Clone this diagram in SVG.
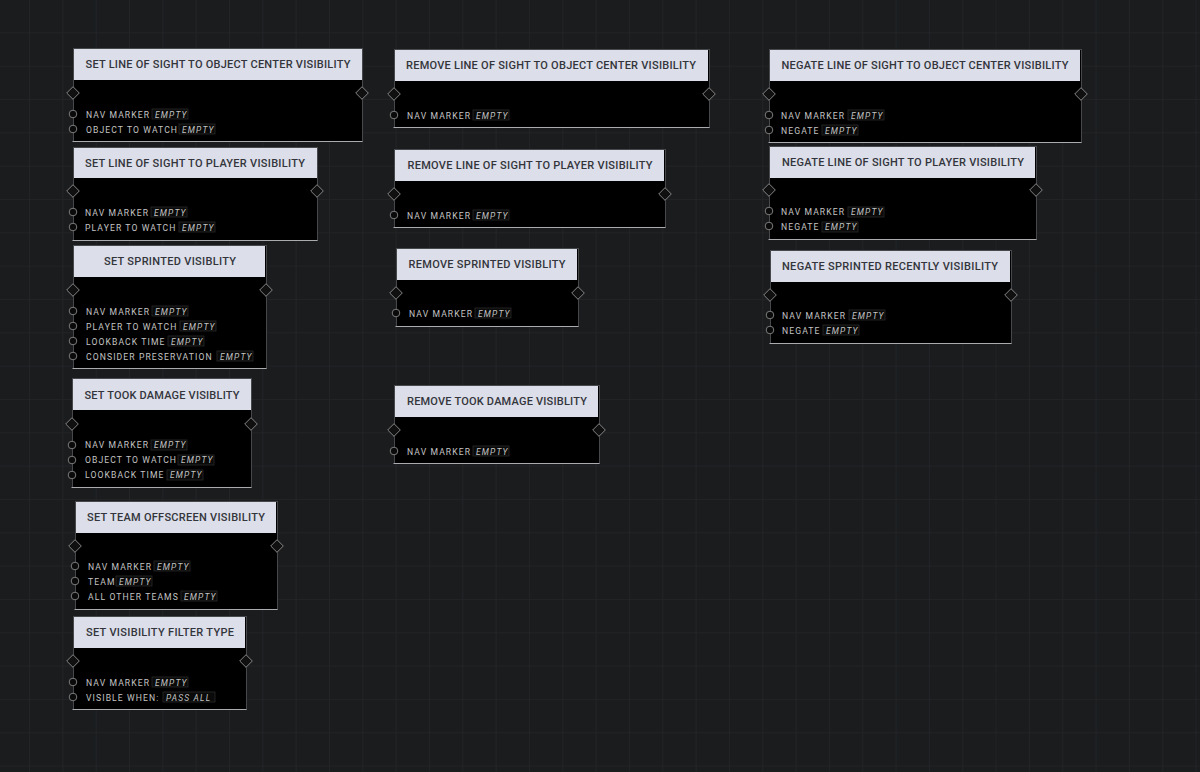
<svg xmlns="http://www.w3.org/2000/svg" width="1200" height="772" viewBox="0 0 1200 772">
<defs>
<pattern id="grid" width="33.33" height="33.33" patternUnits="userSpaceOnUse" x="-3.33" y="0"><path d="M33.33 0V33.33M0 33.33H33.33" fill="none" stroke="#232528" stroke-width="1.6"/></pattern>
<g id="pin"><circle r="3.8" fill="#0a0a0a" stroke="#7c7c7c" stroke-width="1"/></g>
<g id="dia"><path d="M0-6.3 6.3 0 0 6.3-6.3 0Z" fill="#101010" stroke="#868686" stroke-width="1"/></g>
</defs>
<style>
.body{fill:#000;stroke:#46484b;stroke-width:1;transform:translate(.5px,.5px)}
.bot{stroke:#a9abae;stroke-width:1;transform:translateY(.5px)}
.head{fill:#dcdeea}
.t{font:500 11px Roboto,"Liberation Sans",sans-serif;fill:#33353b;text-anchor:middle}
.l{font:8.6px Roboto,"Liberation Sans",sans-serif;letter-spacing:1.1px;fill:#c4c4c4}
.v{font:italic 8.4px Roboto,"Liberation Sans",sans-serif;letter-spacing:1.2px;fill:#c4c4c4;transform:translateX(1px)}
.b{fill:#0a0a0a;stroke:#2a2a2a;stroke-width:.8}
</style>
<rect width="1200" height="772" fill="#1a1c1e"/>
<rect width="1200" height="772" fill="url(#grid)"/>
<g id="connectors"/>
<g id="n1"><rect class="body" x="73" y="48" width="289" height="93"/><path class="bot" d="M72.5 141H362.5"/><rect class="head" x="74" y="49" width="288" height="31"/><text class="t" x="218" y="67.5" textLength="265" lengthAdjust="spacing">SET LINE OF SIGHT TO OBJECT CENTER VISIBILITY</text><use href="#dia" x="73" y="93"/><use href="#dia" x="362" y="93"/><use href="#pin" x="73" y="114"/><text class="l" x="86" y="118">NAV MARKER</text><rect class="b" x="152" y="109" width="36" height="10"/><text class="v" x="154" y="118">EMPTY</text><use href="#pin" x="73" y="129"/><text class="l" x="86" y="133">OBJECT TO WATCH</text><rect class="b" x="179" y="124" width="36" height="10"/><text class="v" x="181" y="133">EMPTY</text></g>
<g id="n2"><rect class="body" x="73" y="147" width="244" height="93"/><path class="bot" d="M72.5 240H317.5"/><rect class="head" x="74" y="148" width="243" height="30"/><text class="t" x="195" y="166.5" textLength="220">SET LINE OF SIGHT TO PLAYER VISIBILITY</text><use href="#dia" x="73" y="191"/><use href="#dia" x="317" y="191"/><use href="#pin" x="73" y="212"/><text class="l" x="85" y="216">NAV MARKER</text><rect class="b" x="151" y="207" width="36" height="10"/><text class="v" x="153" y="216">EMPTY</text><use href="#pin" x="73" y="227"/><text class="l" x="85" y="231">PLAYER TO WATCH</text><rect class="b" x="179" y="222" width="36" height="10"/><text class="v" x="181" y="231">EMPTY</text></g>
<g id="n3"><rect class="body" x="73" y="245" width="193" height="123"/><path class="bot" d="M72.5 368H266.5"/><rect class="head" x="74" y="246" width="191" height="31"/><text class="t" x="170" y="264.5" textLength="132">SET SPRINTED VISIBLITY</text><use href="#dia" x="73" y="290"/><use href="#dia" x="266" y="290"/><use href="#pin" x="73" y="311"/><text class="l" x="86" y="315">NAV MARKER</text><rect class="b" x="152" y="306" width="36" height="10"/><text class="v" x="154" y="315">EMPTY</text><use href="#pin" x="73" y="326"/><text class="l" x="86" y="330">PLAYER TO WATCH</text><rect class="b" x="180" y="321" width="36" height="10"/><text class="v" x="182" y="330">EMPTY</text><use href="#pin" x="73" y="341"/><text class="l" x="86" y="345">LOOKBACK TIME</text><rect class="b" x="168" y="336" width="36" height="10"/><text class="v" x="170" y="345">EMPTY</text><use href="#pin" x="73" y="356"/><text class="l" x="86" y="360">CONSIDER PRESERVATION</text><rect class="b" x="217" y="351" width="36" height="10"/><text class="v" x="219" y="360">EMPTY</text></g>
<g id="n4"><rect class="body" x="72" y="378" width="179" height="109"/><path class="bot" d="M71.5 487H251.5"/><rect class="head" x="73" y="379" width="178" height="31"/><text class="t" x="162" y="398.5" textLength="155">SET TOOK DAMAGE VISIBLITY</text><use href="#dia" x="72" y="424"/><use href="#dia" x="251" y="424"/><use href="#pin" x="72" y="445"/><text class="l" x="85" y="448">NAV MARKER</text><rect class="b" x="151" y="440" width="36" height="10"/><text class="v" x="153" y="448">EMPTY</text><use href="#pin" x="72" y="460"/><text class="l" x="85" y="463">OBJECT TO WATCH</text><rect class="b" x="178" y="455" width="36" height="10"/><text class="v" x="180" y="463">EMPTY</text><use href="#pin" x="72" y="475"/><text class="l" x="85" y="478">LOOKBACK TIME</text><rect class="b" x="167" y="470" width="36" height="10"/><text class="v" x="169" y="478">EMPTY</text></g>
<g id="n5"><rect class="body" x="75" y="501" width="202" height="108"/><path class="bot" d="M74.5 609H277.5"/><rect class="head" x="76" y="502" width="200" height="31"/><text class="t" x="176" y="520.5" textLength="178">SET TEAM OFFSCREEN VISIBILITY</text><use href="#dia" x="75" y="546"/><use href="#dia" x="277" y="546"/><use href="#pin" x="75" y="566"/><text class="l" x="88" y="570">NAV MARKER</text><rect class="b" x="154" y="561" width="36" height="10"/><text class="v" x="156" y="570">EMPTY</text><use href="#pin" x="75" y="581"/><text class="l" x="88" y="585">TEAM</text><rect class="b" x="116" y="576" width="36" height="10"/><text class="v" x="118" y="585">EMPTY</text><use href="#pin" x="75" y="596"/><text class="l" x="88" y="600">ALL OTHER TEAMS</text><rect class="b" x="181" y="591" width="36" height="10"/><text class="v" x="183" y="600">EMPTY</text></g>
<g id="n6"><rect class="body" x="73" y="616" width="173" height="93"/><path class="bot" d="M72.5 709H246.5"/><rect class="head" x="74" y="617" width="171" height="31"/><text class="t" x="160" y="635.5" textLength="148">SET VISIBILITY FILTER TYPE</text><use href="#dia" x="73" y="661"/><use href="#dia" x="246" y="661"/><use href="#pin" x="73" y="682"/><text class="l" x="86" y="686">NAV MARKER</text><rect class="b" x="152" y="677" width="36" height="10"/><text class="v" x="154" y="686">EMPTY</text><use href="#pin" x="73" y="697"/><text class="l" x="86" y="701">VISIBLE WHEN:</text><rect class="b" x="163" y="692" width="52" height="10"/><text class="v" x="165" y="701">PASS ALL</text></g>
<g id="n7"><rect class="body" x="394" y="49" width="315" height="78"/><path class="bot" d="M393.5 127H709.5"/><rect class="head" x="395" y="50" width="313" height="31"/><text class="t" x="551" y="68.5" textLength="290">REMOVE LINE OF SIGHT TO OBJECT CENTER VISIBILITY</text><use href="#dia" x="394" y="94"/><use href="#dia" x="709" y="94"/><use href="#pin" x="394" y="115"/><text class="l" x="407" y="119">NAV MARKER</text><rect class="b" x="473" y="110" width="36" height="10"/><text class="v" x="475" y="119">EMPTY</text></g>
<g id="n8"><rect class="body" x="394" y="149" width="271" height="78"/><path class="bot" d="M393.5 227H665.5"/><rect class="head" x="395" y="150" width="269" height="31"/><text class="t" x="530" y="168.5" textLength="245">REMOVE LINE OF SIGHT TO PLAYER VISIBILITY</text><use href="#dia" x="394" y="194"/><use href="#dia" x="665" y="194"/><use href="#pin" x="394" y="215"/><text class="l" x="407" y="219">NAV MARKER</text><rect class="b" x="473" y="210" width="36" height="10"/><text class="v" x="475" y="219">EMPTY</text></g>
<g id="n9"><rect class="body" x="396" y="248" width="182" height="78"/><path class="bot" d="M395.5 326H578.5"/><rect class="head" x="397" y="249" width="180" height="31"/><text class="t" x="487" y="267.5" textLength="157">REMOVE SPRINTED VISIBLITY</text><use href="#dia" x="396" y="293"/><use href="#dia" x="578" y="293"/><use href="#pin" x="396" y="313"/><text class="l" x="409" y="317">NAV MARKER</text><rect class="b" x="475" y="308" width="36" height="10"/><text class="v" x="477" y="317">EMPTY</text></g>
<g id="n10"><rect class="body" x="394" y="385" width="205" height="78"/><path class="bot" d="M393.5 463H599.5"/><rect class="head" x="395" y="386" width="203" height="31"/><text class="t" x="497" y="404.5" textLength="180">REMOVE TOOK DAMAGE VISIBLITY</text><use href="#dia" x="394" y="430"/><use href="#dia" x="599" y="430"/><use href="#pin" x="394" y="451"/><text class="l" x="407" y="455">NAV MARKER</text><rect class="b" x="473" y="446" width="36" height="10"/><text class="v" x="475" y="455">EMPTY</text></g>
<g id="n11"><rect class="body" x="769" y="49" width="312" height="93"/><path class="bot" d="M768.5 142H1081.5"/><rect class="head" x="770" y="50" width="310" height="31"/><text class="t" x="925" y="68.5" textLength="287">NEGATE LINE OF SIGHT TO OBJECT CENTER VISIBILITY</text><use href="#dia" x="769" y="94"/><use href="#dia" x="1081" y="94"/><use href="#pin" x="769" y="115"/><text class="l" x="781" y="119">NAV MARKER</text><rect class="b" x="848" y="110" width="36" height="10"/><text class="v" x="850" y="119">EMPTY</text><use href="#pin" x="769" y="130"/><text class="l" x="781" y="134">NEGATE</text><rect class="b" x="822" y="125" width="36" height="10"/><text class="v" x="824" y="134">EMPTY</text></g>
<g id="n12"><rect class="body" x="769" y="146" width="267" height="93"/><path class="bot" d="M768.5 239H1036.5"/><rect class="head" x="770" y="147" width="265" height="31"/><text class="t" x="903" y="165.5" textLength="242">NEGATE LINE OF SIGHT TO PLAYER VISIBILITY</text><use href="#dia" x="769" y="190"/><use href="#dia" x="1036" y="190"/><use href="#pin" x="769" y="211"/><text class="l" x="781" y="215">NAV MARKER</text><rect class="b" x="848" y="207" width="36" height="10"/><text class="v" x="850" y="215">EMPTY</text><use href="#pin" x="769" y="226"/><text class="l" x="781" y="230">NEGATE</text><rect class="b" x="822" y="222" width="36" height="10"/><text class="v" x="824" y="230">EMPTY</text></g>
<g id="n13"><rect class="body" x="770" y="250" width="241" height="93"/><path class="bot" d="M769.5 343H1011.5"/><rect class="head" x="771" y="251" width="239" height="31"/><text class="t" x="890" y="269.5" textLength="216">NEGATE SPRINTED RECENTLY VISIBILITY</text><use href="#dia" x="770" y="295"/><use href="#dia" x="1011" y="295"/><use href="#pin" x="770" y="315"/><text class="l" x="782" y="319">NAV MARKER</text><rect class="b" x="849" y="310" width="36" height="10"/><text class="v" x="851" y="319">EMPTY</text><use href="#pin" x="770" y="330"/><text class="l" x="782" y="334">NEGATE</text><rect class="b" x="823" y="325" width="36" height="10"/><text class="v" x="825" y="334">EMPTY</text></g>
</svg>
